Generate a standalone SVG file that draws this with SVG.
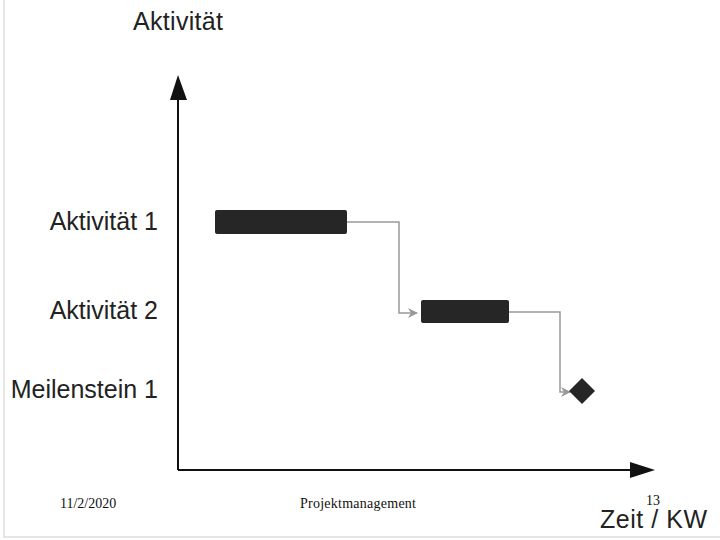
<svg xmlns="http://www.w3.org/2000/svg" width="720" height="540" viewBox="0 0 720 540">
<defs>
<style>
.lbl{font-family:"Liberation Sans",Arial,sans-serif;font-size:25px;fill:#222}
.r{text-anchor:end}
.foot{font-family:"Liberation Serif","Times New Roman",serif;font-size:14px;fill:#111}
.axis{stroke:#111;stroke-width:2;fill:none}
.bar{fill:#262626}
.link{stroke:#999;stroke-width:1.5;fill:none}
</style>
<marker id="ah" markerWidth="10" markerHeight="10" refX="9" refY="5" orient="auto" markerUnits="userSpaceOnUse">
<path d="M0,0 L10,5 L0,10 L3,5 Z" fill="#999"/>
</marker>
</defs>
<rect x="0" y="0" width="720" height="540" fill="#fff"/>
<path d="M4,0 V537 H720" stroke="#ddd" stroke-width="1.5" fill="none"/>
<g id="axes">
<path class="axis" d="M178,470 V98"/>
<polygon points="178,75 170,100 187,100" fill="#111"/>
<path class="axis" d="M178,470 H632"/>
<polygon points="655,470 630,462 630,478" fill="#111"/>
<text class="lbl" x="133" y="30" textLength="90">Aktivität</text>
<text class="lbl" x="600" y="528" textLength="107">Zeit / KW</text>
</g>
<g id="labels">
<text class="lbl r" x="158" y="230">Aktivität 1</text>
<text class="lbl r" x="158" y="319">Aktivität 2</text>
<text class="lbl r" x="158" y="398">Meilenstein 1</text>
</g>
<g id="connectors">
<path class="link" d="M347,222 H399 V313 H417" marker-end="url(#ah)"/>
<path class="link" d="M509,312 H560 V392 H570" marker-end="url(#ah)"/>
</g>
<g id="aktivitaet1"><rect class="bar" x="215" y="210" width="132" height="24" rx="2"/></g>
<g id="aktivitaet2"><rect class="bar" x="421" y="300" width="88" height="23" rx="2"/></g>
<g id="meilenstein1"><polygon class="bar" points="582,378 595,391 582,404 569,391"/></g>
<g id="footer">
<text class="foot" x="60" y="508">11/2/2020</text>
<text class="foot" x="300" y="508" textLength="116">Projektmanagement</text>
<text class="foot" x="646" y="505">13</text>
</g>
</svg>
